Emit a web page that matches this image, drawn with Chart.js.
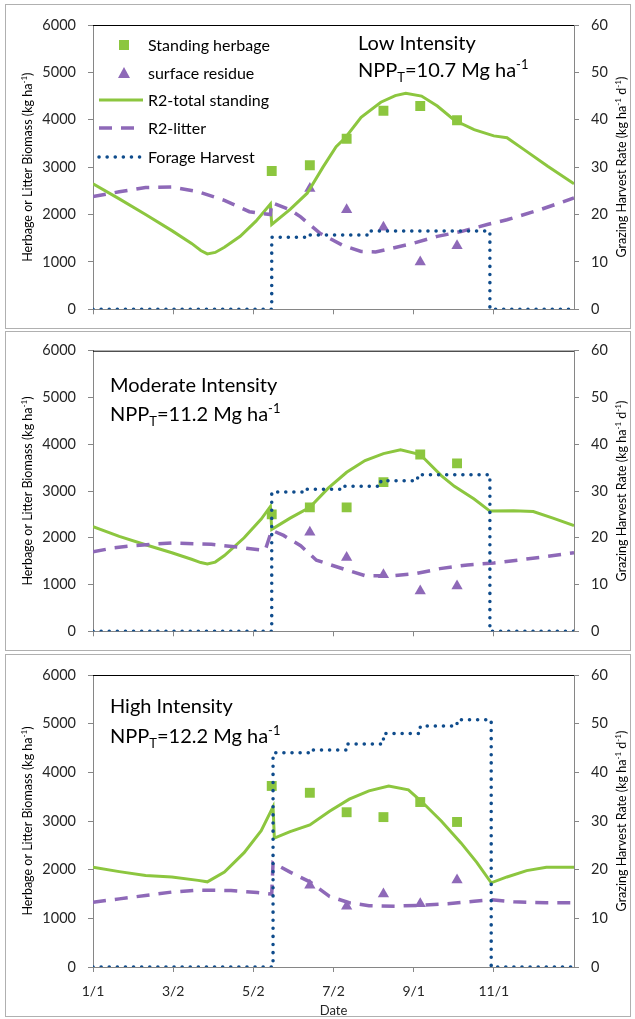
<!DOCTYPE html>
<html>
<head>
<meta charset="utf-8">
<script src="https://cdn.jsdelivr.net/npm/chart.js@4.4.1/dist/chart.umd.min.js"></script>
<style>
  body { margin: 0; background: #fff; }
  #wrap { position: relative; width: 635px; height: 1019px; }
  .pane { position: absolute; left: 0; width: 635px; }
  .box { position: absolute; border: 1px solid #b0b0b0; pointer-events: none; }
</style>
</head>
<body>
<div id="wrap">
  <div class="pane" style="top:0;height:330px"><canvas id="low"></canvas></div>
  <div class="pane" style="top:330px;height:322px"><canvas id="mod"></canvas></div>
  <div class="pane" style="top:652px;height:367px"><canvas id="high"></canvas></div>
  <div class="box" style="left:5px;top:4px;width:624px;height:323px"></div>
  <div class="box" style="left:5px;top:331px;width:624px;height:318px"></div>
  <div class="box" style="left:5px;top:654px;width:624px;height:361px"></div>
</div>
<script>
// x axis = day of year (leap year), ticks every 61 days
const tickDays = [0, 61, 122, 183, 244, 305];
const tickLabels = ['1/1', '3/2', '5/2', '7/2', '9/1', '11/1'];

// field sampling dates
const sampleDays = [136, 165, 193, 221, 249, 277];
const residueDays = [165, 193, 221, 249, 277];

// Low intensity
const herbageLow = [2920, 3040, 3600, 4190, 4290, 3990];
const residueLow = [2550, 2100, 1730, 1000, 1340];
const totalDaysLow = [0, 20, 40, 60, 75, 82, 87, 93, 100, 112, 124, 135, 136, 150, 163, 175, 185, 192, 204, 219, 230, 238, 250, 262, 275, 290, 305, 315, 328, 346, 366];
const totalLow = [2650, 2330, 2000, 1660, 1390, 1240, 1170, 1200, 1310, 1540, 1860, 2220, 1790, 2110, 2450, 3000, 3430, 3620, 4050, 4370, 4510, 4560, 4500, 4290, 3990, 3790, 3660, 3620, 3370, 3020, 2650];
const litterDaysLow = [0, 20, 40, 60, 80, 100, 119, 135, 136, 150, 158, 173, 190, 204, 215, 242, 262, 280, 300, 315, 340, 366];
const litterLow = [2380, 2480, 2570, 2580, 2480, 2300, 2060, 2000, 2250, 2100, 1950, 1600, 1350, 1220, 1210, 1380, 1540, 1640, 1790, 1890, 2100, 2350];
const harvestDaysLow = [0, 136, 136, 162, 162, 210, 210, 302, 302, 366];
const harvestLow = [0, 0, 15.2, 15.2, 15.7, 15.7, 16.5, 16.5, 0, 0];

// Moderate intensity
const herbageMod = [2500, 2650, 2650, 3190, 3780, 3590];
const residueMod = [2120, 1580, 1210, 860, 970];
const totalDaysMod = [0, 20, 40, 60, 75, 82, 87, 93, 100, 115, 128, 135, 136, 150, 165, 179, 193, 207, 221, 234, 249, 265, 275, 290, 302, 320, 335, 350, 366];
const totalMod = [2240, 2030, 1850, 1680, 1540, 1470, 1440, 1480, 1620, 2000, 2400, 2670, 2180, 2420, 2650, 3060, 3400, 3650, 3800, 3880, 3780, 3330, 3100, 2830, 2570, 2580, 2560, 2420, 2260];
const litterDaysMod = [0, 15, 30, 60, 90, 110, 131, 136, 145, 158, 170, 192, 207, 229, 245, 264, 285, 305, 340, 366];
const litterMod = [1700, 1780, 1830, 1890, 1860, 1800, 1730, 2160, 2050, 1830, 1520, 1320, 1190, 1190, 1230, 1340, 1420, 1460, 1580, 1680];
const harvestDaysMod = [0, 136, 136, 162, 162, 190, 190, 219, 219, 247, 247, 302, 302, 366];
const harvestMod = [0, 0, 29.8, 29.8, 30.4, 30.4, 31.0, 31.0, 32.2, 32.2, 33.5, 33.5, 0, 0];

// High intensity
const herbageHigh = [3720, 3580, 3180, 3080, 3390, 2980];
const residueHigh = [1680, 1250, 1500, 1300, 1790];
const totalDaysHigh = [0, 20, 40, 60, 80, 87, 100, 115, 128, 137, 138, 150, 165, 180, 195, 210, 225, 240, 250, 265, 280, 292, 303, 315, 330, 345, 366];
const totalHigh = [2050, 1960, 1880, 1850, 1780, 1750, 1950, 2350, 2800, 3290, 2650, 2780, 2920, 3200, 3450, 3620, 3720, 3640, 3400, 3000, 2550, 2150, 1730, 1850, 1980, 2050, 2050];
const litterDaysHigh = [0, 20, 40, 60, 80, 105, 125, 136, 137, 150, 165, 180, 195, 210, 230, 250, 270, 290, 303, 320, 345, 366];
const litterHigh = [1330, 1400, 1470, 1540, 1580, 1570, 1530, 1500, 2140, 1950, 1750, 1450, 1320, 1260, 1250, 1270, 1300, 1350, 1380, 1340, 1320, 1320];
const harvestDaysHigh = [0, 137, 137, 165, 165, 193, 193, 221, 221, 249, 249, 277, 277, 303, 303, 366];
const harvestHigh = [0, 0, 44.0, 44.0, 44.6, 44.6, 45.8, 45.8, 48.0, 48.0, 49.5, 49.5, 50.8, 50.8, 0, 0];

const GREEN = '#8cc63f';
const PURPLE = '#8e69b8';
const BLUE = '#0f4c8c';
const FONT = 'Lato';

Chart.defaults.font.family = FONT;
Chart.defaults.color = '#262626';

const pts = (xs, ys) => xs.map((x, i) => ({ x: x, y: ys[i] }));

// draw text with sub/superscript pieces, baseline at y
function rich(ctx, parts, x, y, size, rot, align) {
  ctx.save();
  ctx.translate(x, y);
  ctx.rotate(rot || 0);
  ctx.textBaseline = 'alphabetic';
  ctx.textAlign = 'left';
  ctx.fillStyle = '#000';
  const fontFor = k => (k ? size * 0.65 : size) + 'px ' + FONT;
  let w = 0;
  parts.forEach(([t, k]) => { ctx.font = fontFor(k); w += ctx.measureText(t).width; });
  let cx = align === 'left' ? 0 : -w / 2;
  parts.forEach(([t, k]) => {
    ctx.font = fontFor(k);
    const dy = k === 'sup' ? -size * 0.42 : k === 'sub' ? size * 0.25 : 0;
    ctx.fillText(t, cx, dy);
    cx += ctx.measureText(t).width;
  });
  ctx.restore();
}

const panelText = {
  id: 'panelText',
  afterDraw(chart, args, o) {
    const { ctx, chartArea: a } = chart;
    ctx.save();
    ctx.strokeStyle = '#000';
    ctx.lineWidth = 1;
    ctx.beginPath();
    ctx.moveTo(a.left, a.top + 0.5);
    ctx.lineTo(a.right, a.top + 0.5);
    ctx.stroke();

    const midY = (a.top + a.bottom) / 2;
    rich(ctx, [['Herbage or Litter Biomass (kg ha'], ['-1', 'sup'], [')']], 32, midY, 12.5, -Math.PI / 2);
    rich(ctx, [['Grazing Harvest Rate (kg ha'], ['-1', 'sup'], [' d'], ['-1', 'sup'], [')']], 626, midY, 12.5, -Math.PI / 2);

    rich(ctx, [[o.title]], o.tx, o.ty1, 20, 0, 'left');
    rich(ctx, [['NPP'], ['T', 'sub'], ['=' + o.npp + ' Mg ha'], ['-1', 'sup']], o.tx, o.ty2, 20, 0, 'left');

    if (o.dateTitle) {
      ctx.font = '13px ' + FONT;
      ctx.fillStyle = '#262626';
      ctx.textAlign = 'center';
      ctx.textBaseline = 'alphabetic';
      ctx.fillText('Date', (a.left + a.right) / 2, 363);
    }

    if (o.legend) {
      const rows = [45, 73, 100, 128, 157];
      const names = ['Standing herbage', 'surface residue', 'R2-total standing', 'R2-litter', 'Forage Harvest'];
      ctx.fillStyle = GREEN;
      ctx.fillRect(124 - 5, rows[0] - 5, 10, 10);
      ctx.fillStyle = PURPLE;
      ctx.beginPath();
      ctx.moveTo(124, rows[1] - 6);
      ctx.lineTo(130, rows[1] + 5);
      ctx.lineTo(118, rows[1] + 5);
      ctx.closePath();
      ctx.fill();
      const lineRow = (y, color, width, dash, cap) => {
        ctx.save();
        ctx.strokeStyle = color;
        ctx.lineWidth = width;
        ctx.setLineDash(dash);
        ctx.lineCap = cap;
        ctx.beginPath();
        ctx.moveTo(99, y);
        ctx.lineTo(143, y);
        ctx.stroke();
        ctx.restore();
      };
      lineRow(rows[2], GREEN, 3, [], 'butt');
      lineRow(rows[3], PURPLE, 3.5, [13, 9], 'butt');
      lineRow(rows[4], BLUE, 3.5, [0.1, 8], 'round');
      ctx.fillStyle = '#000';
      ctx.font = '16px ' + FONT;
      ctx.textAlign = 'left';
      ctx.textBaseline = 'middle';
      names.forEach((n, i) => ctx.fillText(n, 148, rows[i] + 1));
    }
    ctx.restore();
  }
};

function makePanel(id, d, p) {
  new Chart(document.getElementById(id), {
    type: 'line',
    data: {
      datasets: [
        {
          label: 'Standing herbage', data: pts(sampleDays, d.herbage), showLine: false,
          pointStyle: 'rect', pointRadius: 7, pointBackgroundColor: GREEN, pointBorderWidth: 0,
          yAxisID: 'y', order: 5
        },
        {
          label: 'surface residue', data: pts(residueDays, d.residue), showLine: false,
          pointStyle: 'triangle', pointRadius: 6.5, pointBackgroundColor: PURPLE, pointBorderWidth: 0,
          yAxisID: 'y', order: 4
        },
        {
          label: 'R2-total standing', data: pts(d.totalDays, d.total), borderColor: GREEN,
          borderWidth: 3, pointRadius: 0, tension: 0, yAxisID: 'y', order: 3
        },
        {
          label: 'R2-litter', data: pts(d.litterDays, d.litter), borderColor: PURPLE,
          borderWidth: 3.5, borderDash: [13, 9], pointRadius: 0, tension: 0, yAxisID: 'y', order: 2
        },
        {
          label: 'Forage Harvest', data: pts(d.harvestDays, d.harvest), borderColor: BLUE,
          borderWidth: 3.5, borderDash: [0.1, 8], borderCapStyle: 'round', pointRadius: 0,
          tension: 0, yAxisID: 'y2', order: 1
        }
      ]
    },
    options: {
      responsive: true,
      maintainAspectRatio: false,
      animation: false,
      layout: { padding: { top: p.padTop, left: 0, right: 0, bottom: 0 } },
      plugins: {
        legend: { display: false },
        tooltip: { enabled: false },
        panelText: p.text
      },
      scales: {
        x: {
          type: 'linear', min: 0, max: 366,
          afterBuildTicks: s => { s.ticks = tickDays.map(v => ({ value: v })); },
          afterFit: s => { s.height = p.xHeight; },
          grid: { drawOnChartArea: false, tickLength: 5, color: '#868686' },
          border: { color: '#868686' },
          ticks: {
            display: p.xLabels, padding: 11, font: { size: 14 },
            callback: v => tickLabels[tickDays.indexOf(v)] ?? ''
          }
        },
        y: {
          position: 'left', min: 0, max: 6000,
          afterFit: s => { s.width = 93; },
          grid: { drawOnChartArea: false, tickLength: 5, color: '#868686' },
          border: { color: '#868686' },
          ticks: { stepSize: 1000, padding: 12, font: { size: 14.5 }, callback: v => String(v) }
        },
        y2: {
          position: 'right', min: 0, max: 60,
          afterFit: s => { s.width = 61; },
          grid: { drawOnChartArea: false, tickLength: 5, color: '#868686' },
          border: { color: '#868686' },
          ticks: { stepSize: 10, padding: 12, font: { size: 14.5 }, callback: v => String(v) }
        }
      }
    },
    plugins: [panelText]
  });
}

makePanel('low', {
  herbage: herbageLow, residue: residueLow, totalDays: totalDaysLow, total: totalLow,
  litterDays: litterDaysLow, litter: litterLow, harvestDays: harvestDaysLow, harvest: harvestLow
}, { padTop: 25, xHeight: 13, xLabels: false,
     text: { title: 'Low Intensity', npp: '10.7', tx: 358, ty1: 50, ty2: 77, legend: true } });

makePanel('mod', {
  herbage: herbageMod, residue: residueMod, totalDays: totalDaysMod, total: totalMod,
  litterDays: litterDaysMod, litter: litterMod, harvestDays: harvestDaysMod, harvest: harvestMod
}, { padTop: 20, xHeight: 10, xLabels: false,
     text: { title: 'Moderate Intensity', npp: '11.2', tx: 110, ty1: 62, ty2: 91 } });

makePanel('high', {
  herbage: herbageHigh, residue: residueHigh, totalDays: totalDaysHigh, total: totalHigh,
  litterDays: litterDaysHigh, litter: litterHigh, harvestDays: harvestDaysHigh, harvest: harvestHigh
}, { padTop: 23, xHeight: 52, xLabels: true,
     text: { title: 'High Intensity', npp: '12.2', tx: 110, ty1: 61, ty2: 91, dateTitle: true } });
</script>
</body>
</html>
